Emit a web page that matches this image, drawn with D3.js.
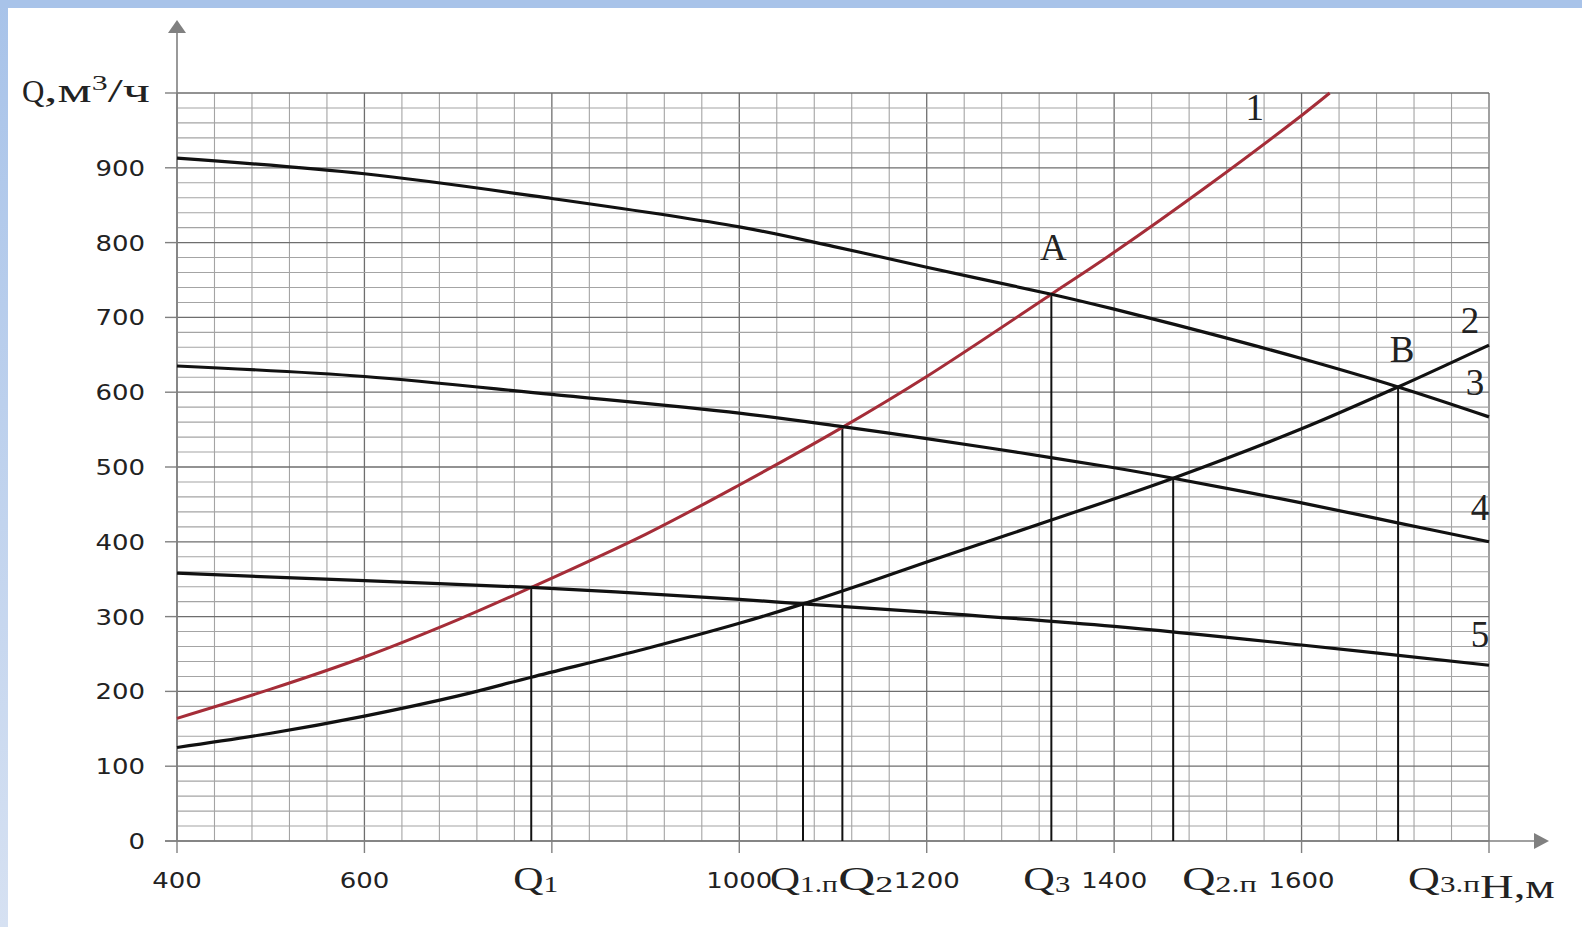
<!DOCTYPE html>
<html>
<head>
<meta charset="utf-8">
<script src="https://cdn.jsdelivr.net/npm/d3@7"></script>
<style>
  body { margin: 0; background: #fff; }
  svg { display: block; }
</style>
</head>
<body>
<svg id="chart" width="1582" height="927"></svg>
<script>
// H, м (x) and Q, м3/ч (y)
const curve1H = [400, 500, 600, 700, 778, 900, 1000, 1110, 1200, 1333, 1400, 1500, 1600, 1630];
const curve1Q = [164, 203, 246, 296, 339, 410, 476, 553, 621, 731, 787, 876, 970, 1000];
const curve2H = [400, 500, 600, 700, 778, 900, 1000, 1068, 1140, 1200, 1333, 1463, 1600, 1703, 1800];
const curve2Q = [125, 144, 167, 194, 219, 257, 291, 317, 347, 373, 429, 485, 551, 607, 663];
const curve3H = [400, 600, 800, 1000, 1100, 1200, 1333, 1400, 1500, 1600, 1703, 1800];
const curve3Q = [913, 892, 859, 821, 795, 767, 731, 711, 679, 645, 607, 567];
const curve4H = [400, 600, 800, 1000, 1110, 1200, 1300, 1400, 1463, 1600, 1700, 1800];
const curve4Q = [635, 621, 597, 572, 554, 538, 519, 499, 485, 452, 426, 400];
const curve5H = [400, 600, 778, 1000, 1068, 1200, 1400, 1600, 1800];
const curve5Q = [358, 348, 339, 323, 317, 306, 287, 262, 235];
const curveNames = ['1', '2', '3', '4', '5'];

// operating points and their drop lines
const dropH = [778, 1068, 1110, 1333, 1463, 1703];
const dropQ = [339, 316, 553, 731, 485, 607];
const dropSub = ['1', '1.п', '2', '3', '2.п', '3.п'];
const pointNames = ['A', 'B'];
const pointH = [1333, 1703];
const pointQ = [731, 607];

const xTicks = [400, 600, 800, 1000, 1200, 1400, 1600, 1800];
const xTickLabels = ['400', '600', '', '1000', '1200', '1400', '1600', ''];
const yTicks = [0, 100, 200, 300, 400, 500, 600, 700, 800, 900, 1000];
const yTickLabels = ['0', '100', '200', '300', '400', '500', '600', '700', '800', '900', ''];

const svg = d3.select('#chart');
const x = d3.scaleLinear().domain([400, 1800]).range([177, 1489]);
const y = d3.scaleLinear().domain([0, 1000]).range([841, 93]);

// frame
const grad = svg.append('defs').append('linearGradient')
  .attr('id', 'side').attr('x1', 0).attr('y1', 0).attr('x2', 0).attr('y2', 1);
grad.append('stop').attr('offset', 0).attr('stop-color', '#a8c3e9');
grad.append('stop').attr('offset', 1).attr('stop-color', '#d6e1f2');
svg.append('rect').attr('width', 1582).attr('height', 927).attr('fill', '#fff');
svg.append('rect').attr('width', 8).attr('height', 927).attr('fill', 'url(#side)');
svg.append('rect').attr('width', 1582).attr('height', 8).attr('fill', '#a8c3e9');

// grid
const grid = svg.append('g');
grid.selectAll('line.v')
  .data(d3.range(400, 1801, 40))
  .enter().append('line')
  .attr('x1', d => x(d)).attr('x2', d => x(d))
  .attr('y1', y(0)).attr('y2', y(1000))
  .attr('stroke', d => d % 200 === 0 ? '#6e6e6e' : '#a4a4a4')
  .attr('stroke-width', d => d % 200 === 0 ? 1.3 : 1.1);
grid.selectAll('line.h')
  .data(d3.range(0, 1001, 20))
  .enter().append('line')
  .attr('y1', d => y(d)).attr('y2', d => y(d))
  .attr('x1', x(400)).attr('x2', x(1800))
  .attr('stroke', d => d % 100 === 0 ? '#6e6e6e' : '#a4a4a4')
  .attr('stroke-width', d => d % 100 === 0 ? 1.3 : 1.1);

// axes with arrows
const axisColor = '#808080';
svg.append('line').attr('x1', x(400)).attr('x2', x(400)).attr('y1', y(0)).attr('y2', 24)
  .attr('stroke', axisColor).attr('stroke-width', 1.6);
svg.append('path').attr('d', `M${x(400)},20 L${x(400) - 9},33 L${x(400) + 9},33 Z`).attr('fill', axisColor);
svg.append('line').attr('x1', 165).attr('x2', 1540).attr('y1', y(0)).attr('y2', y(0))
  .attr('stroke', axisColor).attr('stroke-width', 1.6);
svg.append('path').attr('d', `M1549,${y(0)} L1534,${y(0) - 8} L1534,${y(0) + 8} Z`).attr('fill', axisColor);

svg.selectAll('line.yt').data(yTicks).enter().append('line')
  .attr('x1', x(400) - 12).attr('x2', x(400))
  .attr('y1', d => y(d)).attr('y2', d => y(d))
  .attr('stroke', axisColor).attr('stroke-width', 1.4);
svg.selectAll('line.xt').data(xTicks).enter().append('line')
  .attr('x1', d => x(d)).attr('x2', d => x(d))
  .attr('y1', y(0)).attr('y2', y(0) + 12)
  .attr('stroke', axisColor).attr('stroke-width', 1.4);

const sans = 'DejaVu Sans, Verdana, sans-serif';
const serif = 'Liberation Serif, Times New Roman, serif';

svg.selectAll('text.yl').data(yTicks).enter().append('text')
  .attr('transform', d => `translate(145,${y(d) + 8}) scale(1.18,1)`)
  .attr('text-anchor', 'end')
  .attr('font-family', sans).attr('font-size', 22).attr('fill', '#222')
  .text((d, i) => yTickLabels[i]);
svg.selectAll('text.xl').data(xTicks).enter().append('text')
  .attr('transform', d => `translate(${x(d)},888) scale(1.18,1)`)
  .attr('text-anchor', 'middle')
  .attr('font-family', sans).attr('font-size', 22).attr('fill', '#222')
  .text((d, i) => xTickLabels[i]);

// curves
const line = d3.line().x(d => x(d[0])).y(d => y(d[1])).curve(d3.curveCatmullRom.alpha(0.5));
const curves = [
  [curve1H, curve1Q], [curve2H, curve2Q], [curve3H, curve3Q], [curve4H, curve4Q], [curve5H, curve5Q]
].map(([h, q]) => h.map((v, i) => [v, q[i]]));

// drop lines
svg.selectAll('line.drop').data(dropH).enter().append('line')
  .attr('x1', d => x(d)).attr('x2', d => x(d))
  .attr('y1', (d, i) => y(dropQ[i])).attr('y2', y(0))
  .attr('stroke', '#111').attr('stroke-width', 2);

svg.selectAll('path.curve').data(curves).enter().append('path')
  .attr('d', line)
  .attr('fill', 'none')
  .attr('stroke', (d, i) => i === 0 ? '#a52d38' : '#111')
  .attr('stroke-width', (d, i) => i === 0 ? 3 : 3.2);

// curve numbers, placed near the end of each curve (baseline offsets)
const nameOffset = [[-75, 27], [-19, -12], [-14, -22], [-9, -22], [-9, -18]];
svg.selectAll('text.cn').data(curves).enter().append('text')
  .attr('x', (d, i) => x(d[d.length - 1][0]) + nameOffset[i][0])
  .attr('y', (d, i) => y(d[d.length - 1][1]) + nameOffset[i][1])
  .attr('text-anchor', 'middle')
  .attr('font-family', serif).attr('font-size', 37).attr('fill', '#222')
  .text((d, i) => curveNames[i]);

const pointOffset = [[2, -34], [4, -25]];
svg.selectAll('text.pn').data(pointNames).enter().append('text')
  .attr('x', (d, i) => x(pointH[i]) + pointOffset[i][0])
  .attr('y', (d, i) => y(pointQ[i]) + pointOffset[i][1])
  .attr('text-anchor', 'middle')
  .attr('font-family', serif).attr('font-size', 37).attr('fill', '#222')
  .text(d => d);

// stretch a label horizontally to a target width
function fit(g, width) {
  const w = g.node().getBBox().width;
  const t = g.attr('data-t');
  g.attr('transform', `${t} scale(${width / w},1)`);
}

// Q labels under the drop lines
const qLeft = [-18, -33, -4, -28, 9, 10];
const qWidth = [45, 68, 55, 47, 75, 72];
dropH.forEach((h, i) => {
  const g = svg.append('g').attr('data-t', `translate(${x(h) + qLeft[i]},890)`);
  g.attr('transform', g.attr('data-t'));
  const t = g.append('text').attr('font-family', serif).attr('fill', '#222');
  t.append('tspan').attr('font-size', 34).text('Q');
  t.append('tspan').attr('font-size', 24).attr('dy', 2).text(dropSub[i]);
  fit(g, qWidth[i]);
});

// axis titles
const hg = svg.append('g').attr('data-t', 'translate(1480,898)');
hg.append('text').attr('font-family', serif).attr('font-size', 33).attr('fill', '#222').text('H,м');
fit(hg, 75);

svg.append('text').attr('x', 22).attr('y', 102)
  .attr('font-family', serif).attr('font-size', 31).attr('fill', '#222').text('Q');
const qg = svg.append('g').attr('data-t', 'translate(44,102)');
const qt = qg.append('text').attr('font-family', serif).attr('fill', '#222');
qt.append('tspan').attr('font-size', 34).text(',м');
qt.append('tspan').attr('font-size', 20).attr('dy', -12).text('3');
qt.append('tspan').attr('font-size', 34).attr('dy', 12).text('/ч');
fit(qg, 106);
</script>
</body>
</html>
